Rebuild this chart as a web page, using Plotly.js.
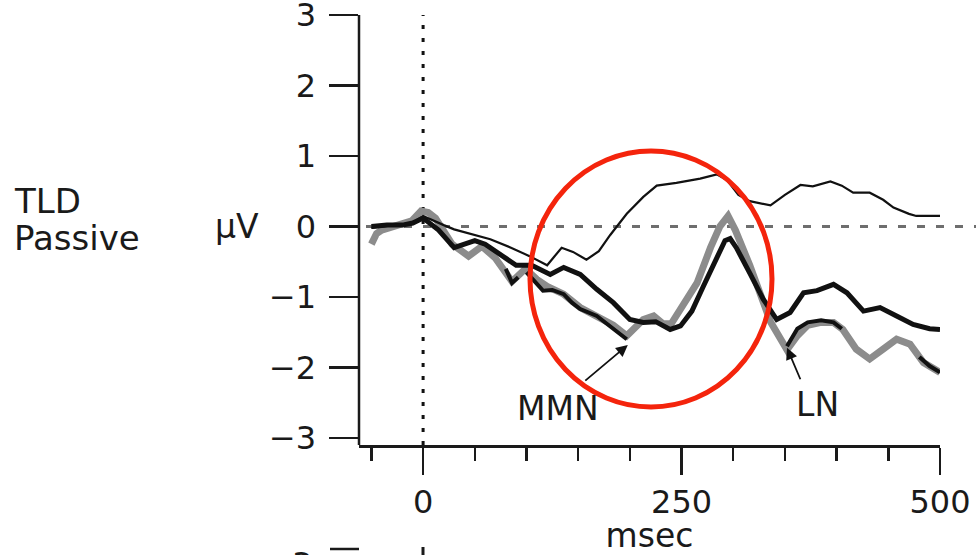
<!DOCTYPE html>
<html>
<head>
<meta charset="utf-8">
<script src="https://cdn.plot.ly/plotly-3.0.1.min.js"></script>
<style>html,body{margin:0;padding:0;background:#fff;}#chart{width:980px;height:555px;}</style>
</head>
<body>
<div id="chart"></div>
<script>
// ---- data ----
// thin black trace
var timeA = [-50,-40,-30,-20,-10,0,10,20,30,40,50,65,85,103,120,128,134,145,158,170,181,197,213,226,245,268,284,294,305,316,336,350,365,377,394,405,416,432,445,455,470,477,500];
var voltA = [-0.02,0.0,0.02,0.03,0.05,0.15,0.08,0.02,-0.04,-0.08,-0.12,-0.18,-0.3,-0.42,-0.55,-0.4,-0.3,-0.36,-0.47,-0.35,-0.12,0.18,0.42,0.58,0.62,0.68,0.74,0.66,0.45,0.36,0.3,0.45,0.59,0.57,0.64,0.58,0.48,0.48,0.38,0.27,0.18,0.15,0.15];
// thick black trace
var timeB = [-50,-35,-20,-10,0,15,30,40,50,60,75,90,105,115,123,136,152,168,184,200,213,225,239,249,260,271,284,292,297,303,316,329,342,355,368,381,397,410,426,442,458,474,490,500];
var voltB = [0.0,0.02,0.02,0.05,0.12,-0.05,-0.3,-0.25,-0.2,-0.25,-0.4,-0.55,-0.55,-0.62,-0.68,-0.58,-0.68,-0.89,-1.08,-1.32,-1.36,-1.35,-1.46,-1.41,-1.2,-0.85,-0.45,-0.2,-0.17,-0.3,-0.66,-1.03,-1.32,-1.22,-0.94,-0.91,-0.82,-0.94,-1.2,-1.15,-1.27,-1.39,-1.45,-1.46];
// grey trace
var timeC = [-50,-45,-40,-25,-11,-2,5,12,28,44,57,70,86,99,110,120,136,152,168,184,197,213,223,232,240,251,265,278,287,295,302,316,336,352,362,372,385,397,406,419,432,445,458,471,484,500];
var voltC = [-0.25,-0.1,-0.05,0.03,0.08,0.22,0.2,0.12,-0.25,-0.42,-0.28,-0.45,-0.78,-0.6,-0.75,-0.85,-0.96,-1.15,-1.27,-1.4,-1.55,-1.32,-1.27,-1.38,-1.38,-1.13,-0.8,-0.3,0.0,0.15,-0.05,-0.55,-1.35,-1.75,-1.55,-1.4,-1.36,-1.36,-1.46,-1.74,-1.88,-1.74,-1.6,-1.67,-1.93,-2.07];
// black segments riding on the grey trace
var timeD = [80,86,92,95,100,110,116,125,136,144,152,168,176,184,192,197,200,352,362,372,385,397,405,410,480,490,500];
var voltD = [-0.6,-0.8,-0.72,null,-0.65,-0.82,-0.91,-0.9,-0.96,-1.08,-1.17,-1.27,-1.36,-1.46,-1.55,-1.6,null,-1.7,-1.45,-1.36,-1.33,-1.36,-1.45,null,-1.85,-1.98,-2.07];

var xTickVals = [0,250,500];
var xTickText = ['0','250','500'];
var yTickVals = [-3,-2,-1,0,1,2,3];
var yTickText = ['\u22123','\u22122','\u22121','0','1','2','3'];

// ---- layout geometry ----
var W = 980, H = 555;
var ml = 359, mr = 40, mt = 13, mb = 110;
var pw = W - ml - mr, ph = H - mt - mb;
var xRange = [-62, 500], yRange = [-3.1, 3.03];
function px2paperX(px){ return (px - ml) / pw; }
function py2paperY(py){ return (H - mb - py) / ph; }
var y0paper = (0 - yRange[0]) / (yRange[1] - yRange[0]);
var y3paper = (3 - yRange[0]) / (yRange[1] - yRange[0]);

var FONT = 'DejaVu Sans, Liberation Sans, Arial, sans-serif';
var ink = '#1a1a1a';

var traces = [
  {x: timeC, y: voltC, mode: 'lines', line: {color: '#8c8c8c', width: 7}, hoverinfo: 'skip'},
  {x: timeD, y: voltD, mode: 'lines', connectgaps: false, line: {color: '#111', width: 4}, hoverinfo: 'skip'},
  {x: timeB, y: voltB, mode: 'lines', line: {color: '#111', width: 5}, hoverinfo: 'skip'},
  {x: timeA, y: voltA, mode: 'lines', line: {color: '#111', width: 2.2}, hoverinfo: 'skip'}
];

var layout = {
  width: W, height: H,
  margin: {l: ml, r: mr, t: mt, b: mb, pad: 0},
  paper_bgcolor: '#fff', plot_bgcolor: '#fff',
  showlegend: false,
  font: {family: FONT, size: 32, color: ink},
  xaxis: {
    range: xRange, showgrid: false, zeroline: false,
    showline: true, linecolor: ink, linewidth: 2.5,
    tickmode: 'array', tickvals: xTickVals, ticktext: xTickText,
    ticks: 'outside', ticklen: 27, tickwidth: 2.5, tickcolor: ink,
    ticklabeloverflow: 'allow',
    minor: {tickmode: 'linear', tick0: 0, dtick: 50, ticks: 'outside', ticklen: 13, tickwidth: 2.5, tickcolor: ink, showgrid: false},
    tickfont: {family: FONT, size: 32, color: ink},
    title: {text: 'msec', font: {family: FONT, size: 33, color: ink}, standoff: 2}
  },
  yaxis: {
    range: yRange, showgrid: false, zeroline: false,
    showline: false,
    tickmode: 'array', tickvals: yTickVals,
    ticktext: yTickText.map(function(t){ return t + '\u2009'; }),
    ticks: 'outside', ticklen: 29, tickwidth: 2.5, tickcolor: ink,
    ticklabeloverflow: 'allow',
    tickfont: {family: FONT, size: 32, color: ink}
  },
  shapes: [
    // y axis line from the top tick (3) down to the x axis
    {type: 'line', xref: 'paper', yref: 'paper', x0: 0, x1: 0, y0: 0, y1: y3paper,
     line: {color: ink, width: 2.5}, layer: 'above'},
    // horizontal dashed zero line
    {type: 'line', xref: 'paper', yref: 'paper', x0: px2paperX(366), x1: px2paperX(976), y0: y0paper, y1: y0paper,
     line: {color: '#6e6e6e', width: 3, dash: '8px,11px'}, layer: 'below'},
    // vertical dotted stimulus-onset line
    {type: 'line', xref: 'x', yref: 'paper', x0: 0, x1: 0, y0: 0, y1: y3paper,
     line: {color: '#111', width: 3, dash: '4px,9px'}, layer: 'below'},
    // red highlight circle
    {type: 'circle', xref: 'paper', yref: 'paper', x0: px2paperX(530), x1: px2paperX(772), y0: py2paperY(407), y1: py2paperY(151),
     line: {color: '#f4240c', width: 5}, fillcolor: 'rgba(0,0,0,0)', layer: 'above'},
    // partial next panel peeking at bottom
    {type: 'line', xref: 'paper', yref: 'paper', x0: px2paperX(330), x1: px2paperX(359), y0: py2paperY(549), y1: py2paperY(549),
     line: {color: ink, width: 2.5}},
    {type: 'line', xref: 'paper', yref: 'paper', x0: px2paperX(423), x1: px2paperX(423), y0: py2paperY(547), y1: py2paperY(556),
     line: {color: ink, width: 3}}
  ],
  annotations: [
    {xref: 'paper', yref: 'paper', x: px2paperX(12), y: py2paperY(201), xanchor: 'left', yanchor: 'middle',
     text: 'TLD', showarrow: false, font: {family: FONT, size: 34, color: ink}},
    {xref: 'paper', yref: 'paper', x: px2paperX(12), y: py2paperY(238), xanchor: 'left', yanchor: 'middle',
     text: 'Passive', showarrow: false, font: {family: FONT, size: 34, color: ink}},
    {xref: 'paper', yref: 'paper', x: px2paperX(237), y: py2paperY(226), xanchor: 'center', yanchor: 'middle',
     text: '\u00b5V', showarrow: false, font: {family: FONT, size: 33, color: ink}},
    {xref: 'paper', yref: 'paper', x: px2paperX(558), y: py2paperY(408), xanchor: 'center', yanchor: 'middle',
     text: 'MMN', showarrow: false, font: {family: FONT, size: 33, color: ink}},
    {xref: 'paper', yref: 'paper', x: px2paperX(817), y: py2paperY(404), xanchor: 'center', yanchor: 'middle',
     text: 'LN', showarrow: false, font: {family: FONT, size: 33, color: ink}},
    // arrows
    {xref: 'x', yref: 'y', x: 198, y: -1.68, ax: -44, ay: 37, text: '', showarrow: true,
     arrowhead: 2, arrowsize: 1.3, arrowwidth: 1.8, arrowcolor: '#111', standoff: 0},
    {xref: 'x', yref: 'y', x: 352, y: -1.72, ax: 14, ay: 33, text: '', showarrow: true,
     arrowhead: 2, arrowsize: 1.3, arrowwidth: 1.8, arrowcolor: '#111', standoff: 0},
    // partial "3" of next panel
    {xref: 'paper', yref: 'paper', x: px2paperX(314), y: py2paperY(543), xanchor: 'right', yanchor: 'top',
     text: '3', showarrow: false, font: {family: FONT, size: 32, color: ink}}
  ]
};

Plotly.newPlot('chart', traces, layout, {staticPlot: true, displayModeBar: false});
</script>
</body>
</html>
